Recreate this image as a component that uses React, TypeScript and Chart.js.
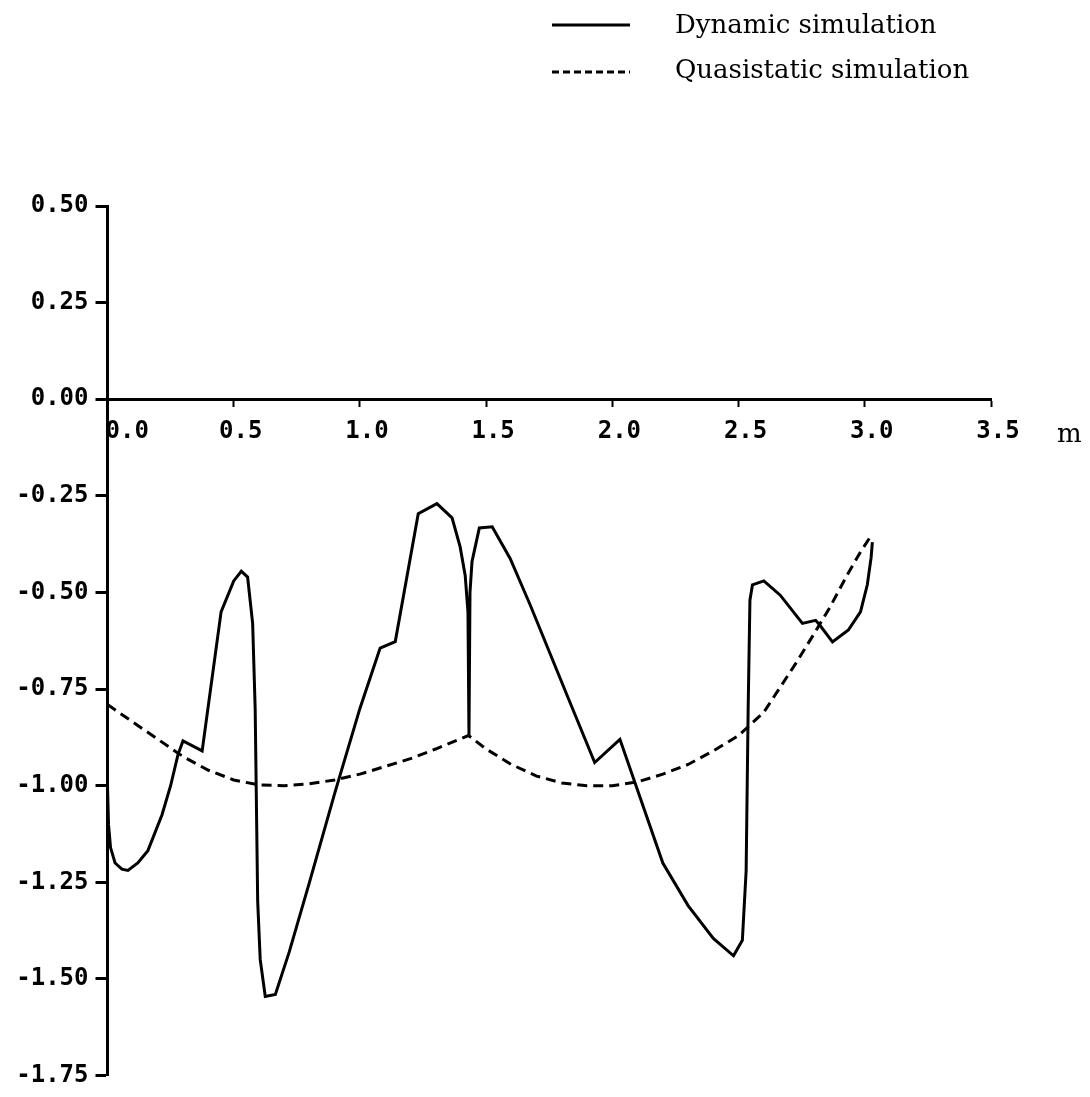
import { useEffect, useRef } from 'react';
import { Chart, registerables } from 'chart.js';

Chart.register(...registerables);

// Vertical displacement (solid) sampled along the track, metres
const dynamicX = [
  0.0, 0.004, 0.012, 0.03, 0.057, 0.081, 0.12, 0.16, 0.216, 0.25, 0.279, 0.299,
  0.375, 0.45, 0.5, 0.53, 0.555, 0.575, 0.585, 0.595, 0.605, 0.625, 0.665, 0.72,
  0.8, 0.9, 1.0, 1.08, 1.14, 1.231, 1.305, 1.365, 1.397, 1.417, 1.428, 1.432,
  1.436, 1.444, 1.473, 1.524, 1.595, 1.675, 1.825, 1.93, 2.03, 2.2, 2.3, 2.4,
  2.48, 2.515, 2.53, 2.538, 2.545, 2.555, 2.6, 2.665, 2.753, 2.805, 2.82, 2.872,
  2.935, 2.983, 3.01, 3.025, 3.03,
];
const dynamicY = [
  -1.0, -1.1, -1.16, -1.2, -1.216, -1.219, -1.2, -1.168, -1.075, -1.0, -0.92, -0.884,
  -0.91, -0.55, -0.47, -0.445, -0.46, -0.58, -0.8, -1.3, -1.45, -1.545, -1.54, -1.43,
  -1.25, -1.02, -0.8, -0.644, -0.627, -0.296, -0.27, -0.307, -0.382, -0.456, -0.55, -0.87,
  -0.5, -0.42, -0.333, -0.33, -0.412, -0.533, -0.773, -0.94, -0.88, -1.2, -1.31, -1.395,
  -1.44, -1.4, -1.22, -0.8, -0.52, -0.48, -0.47, -0.507, -0.58, -0.572, -0.583, -0.628,
  -0.597, -0.55, -0.48, -0.41, -0.37,
];

// Quasistatic reference (dashed)
const quasiX = [
  0.0, 0.1, 0.2, 0.3, 0.4, 0.5, 0.6, 0.7, 0.8, 0.9, 1.0, 1.1, 1.2, 1.3, 1.43,
  1.5, 1.6, 1.7, 1.8, 1.9, 2.0, 2.1, 2.2, 2.3, 2.4, 2.5, 2.6, 2.665, 2.73, 2.796,
  2.863, 2.93, 2.983, 3.03,
];
const quasiY = [
  -0.79, -0.835, -0.88, -0.925, -0.96, -0.985, -0.998, -1.0, -0.995, -0.985, -0.97, -0.95, -0.93, -0.905, -0.87,
  -0.905, -0.945, -0.975, -0.993, -1.0, -1.0, -0.99, -0.97, -0.945, -0.91, -0.87, -0.81, -0.745, -0.68, -0.61,
  -0.537, -0.455, -0.395, -0.348,
];

const xTicks = [0, 0.5, 1.0, 1.5, 2.0, 2.5, 3.0, 3.5];
const yTicks = [0.5, 0.25, 0, -0.25, -0.5, -0.75, -1.0, -1.25, -1.5, -1.75];
const seriesNames = ['Dynamic simulation', 'Quasistatic simulation'];
const unitLabel = 'm';

const NUM_FONT = 'bold 24px "DejaVu Sans Mono"';
const SERIF_FONT = '26px "DejaVu Serif"';
const INK = '#000';

export default function App() {
  const canvasRef = useRef<HTMLCanvasElement>(null);

  useEffect(() => {
    const canvas = canvasRef.current;
    if (!canvas) return;

    // Draws the x tick labels, the unit and the legend
    const annotations = {
      id: 'annotations',
      afterDraw(chart: any) {
        const ctx = chart.ctx as CanvasRenderingContext2D;
        const xs = chart.scales.x;
        const ys = chart.scales.y;
        const y0 = ys.getPixelForValue(0);
        ctx.save();
        ctx.fillStyle = INK;
        ctx.font = NUM_FONT;
        ctx.textBaseline = 'middle';
        xTicks.forEach((v, i) => {
          const px = xs.getPixelForValue(v);
          const text = v.toFixed(1);
          if (i === 0) {
            ctx.textAlign = 'left';
            ctx.fillText(text, px - 2, y0 + 33);
          } else {
            ctx.textAlign = 'center';
            ctx.fillText(text, px + 7, y0 + 33);
          }
        });
        ctx.font = SERIF_FONT;
        ctx.textAlign = 'left';
        ctx.textBaseline = 'alphabetic';
        ctx.fillText(unitLabel, xs.right + 66, y0 + 43);

        // legend
        const rows = [
          { y: 25, dash: [] as number[], text: seriesNames[0], base: 33 },
          { y: 72, dash: [7, 4], text: seriesNames[1], base: 78 },
        ];
        rows.forEach((r) => {
          ctx.beginPath();
          ctx.setLineDash(r.dash);
          ctx.lineWidth = 3;
          ctx.strokeStyle = INK;
          ctx.moveTo(552, r.y);
          ctx.lineTo(630, r.y);
          ctx.stroke();
          ctx.setLineDash([]);
          ctx.fillText(r.text, 675, r.base);
        });
        ctx.restore();
      },
    };

    const chart = new Chart(canvas, {
      type: 'line',
      data: {
        datasets: [
          {
            label: seriesNames[0],
            data: dynamicX.map((x, i) => ({ x, y: dynamicY[i] })),
            borderColor: INK,
            borderWidth: 3,
            pointRadius: 0,
            tension: 0,
          },
          {
            label: seriesNames[1],
            data: quasiX.map((x, i) => ({ x, y: quasiY[i] })),
            borderColor: INK,
            borderWidth: 3,
            borderDash: [10, 6],
            pointRadius: 0,
            tension: 0,
          },
        ],
      },
      options: {
        responsive: false,
        animation: false,
        layout: { padding: { left: 0, right: 99, top: 206, bottom: 19 } },
        plugins: { legend: { display: false }, tooltip: { enabled: false } },
        scales: {
          x: {
            type: 'linear',
            min: 0,
            max: 3.5,
            position: { y: 0 },
            afterBuildTicks: (scale: any) => {
              scale.ticks = xTicks.map((value) => ({ value }));
            },
            ticks: { display: false },
            grid: {
              drawOnChartArea: false,
              drawTicks: true,
              tickLength: 6,
              tickWidth: 2,
              color: INK,
            },
            border: { color: INK, width: 3 },
          },
          y: {
            type: 'linear',
            min: -1.75,
            max: 0.5,
            afterBuildTicks: (scale: any) => {
              scale.ticks = yTicks.map((value) => ({ value }));
            },
            afterFit: (scale: any) => {
              scale.width = 107.5;
            },
            ticks: {
              color: INK,
              padding: 7,
              font: { family: '"DejaVu Sans Mono"', size: 24, weight: 'bold' },
              callback: (v: any) => Number(v).toFixed(2),
            },
            grid: {
              drawOnChartArea: false,
              tickLength: 12,
              tickWidth: 3,
              color: INK,
            },
            border: { color: INK, width: 3 },
          },
        },
      },
      plugins: [annotations],
    });

    return () => chart.destroy();
  }, []);

  return (
    <div
      style={{
        position: 'fixed',
        left: 0,
        top: 0,
        width: 1090,
        height: 1097,
        background: '#fff',
      }}
    >
      <canvas ref={canvasRef} width={1090} height={1097} style={{ display: 'block' }} />
    </div>
  );
}
